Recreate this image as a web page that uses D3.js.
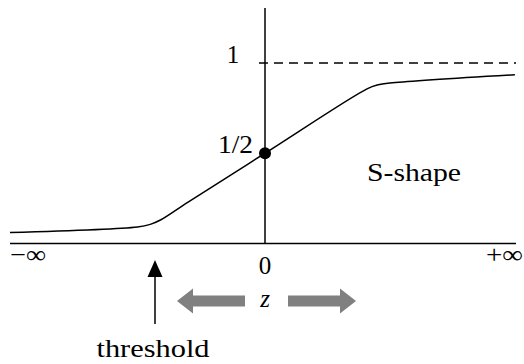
<!DOCTYPE html>
<html>
<head>
<meta charset="utf-8">
<script src="https://cdn.jsdelivr.net/npm/d3@7"></script>
<style>
  body { margin: 0; background: #fff; }
  text { font-family: "Liberation Serif", "Times New Roman", serif; fill: #000; }
</style>
</head>
<body>
<svg id="chart" width="524" height="364"></svg>
<script>
// curve points (z, value), z in [-1, 1] where -1 = -inf, 1 = +inf
var curveZ = [-1, -0.5, -0.45, -0.41, -0.3, 0, 0.4, 0.44, 0.5, 0.98];
var curveV = [0.061, 0.092, 0.106, 0.13, 0.231, 0.5, 0.857, 0.878, 0.89, 0.935];
var yTicks = [1, 0.5];
var yTickLabels = ["1", "1/2"];
var xTickLabels = ["\u2212\u221e", "0", "+\u221e"];

var svg = d3.select("#chart");

var x = d3.scaleLinear().domain([-1, 1]).range([10, 520]);
var y = d3.scaleLinear().domain([0, 1]).range([243.5, 63]);

// axes
svg.append("line")
    .attr("x1", x(-1)).attr("x2", 516)
    .attr("y1", y(0)).attr("y2", y(0))
    .attr("stroke", "#000").attr("stroke-width", 1.5);
svg.append("line")
    .attr("x1", x(0)).attr("x2", x(0))
    .attr("y1", 8).attr("y2", y(0))
    .attr("stroke", "#000").attr("stroke-width", 1.5);

// dashed line at 1
svg.append("line")
    .attr("x1", x(0) - 6).attr("x2", 516)
    .attr("y1", y(1)).attr("y2", y(1))
    .attr("stroke", "#000").attr("stroke-width", 1.4)
    .attr("stroke-dasharray", "9,6");

// the S-shaped curve
var pts = curveZ.map(function(z, i) { return [z, curveV[i]]; });
var line = d3.line()
    .x(function(d) { return x(d[0]); })
    .y(function(d) { return y(d[1]); })
    .curve(d3.curveCatmullRom);
svg.append("path")
    .datum(pts)
    .attr("d", line)
    .attr("fill", "none")
    .attr("stroke", "#000")
    .attr("stroke-width", 1.5);

// point at 1/2
svg.append("circle")
    .attr("cx", x(0)).attr("cy", y(0.5)).attr("r", 6)
    .attr("fill", "#000");

function label(px, py, str, anchor, size, len) {
    var t = svg.append("text").attr("x", px).attr("y", py)
        .attr("text-anchor", anchor).attr("font-size", size).text(str);
    if (len) t.attr("textLength", len).attr("lengthAdjust", "spacingAndGlyphs");
    return t;
}

// y labels
label(233, y(yTicks[0]), yTickLabels[0], "middle", 25);
label(253, y(yTicks[1]), yTickLabels[1], "end", 25, 35);

// x labels
label(x(-1), 263, xTickLabels[0], "start", 25, 36);
label(x(0), 274, xTickLabels[1], "middle", 25);
label(523, 263, xTickLabels[2], "end", 25, 37);

label(414, 181, "S-shape", "middle", 25, 94);

// threshold arrow
var tx = 155;
svg.append("line")
    .attr("x1", tx).attr("x2", tx).attr("y1", 324).attr("y2", 272)
    .attr("stroke", "#000").attr("stroke-width", 1.5);
svg.append("path")
    .attr("d", d3.line()([[tx - 7.5, 277], [tx, 260], [tx + 7.5, 277]]) + "Z")
    .attr("fill", "#000");
label(tx - 2, 357, "threshold", "middle", 26, 113);

// gray z arrows
function grayArrow(x0, x1, yc) {
    var dir = x1 > x0 ? 1 : -1;
    var hb = x1 - dir * 16;
    var p = [[x0, yc - 5.5], [hb, yc - 5.5], [hb, yc - 12.5], [x1, yc],
             [hb, yc + 12.5], [hb, yc + 5.5], [x0, yc + 5.5]];
    svg.append("path").attr("d", d3.line()(p) + "Z").attr("fill", "#808080");
}
grayArrow(245, 177, 301);
grayArrow(288, 356, 301);
label(x(0), 307, "z", "middle", 25).attr("font-style", "italic");
</script>
</body>
</html>
